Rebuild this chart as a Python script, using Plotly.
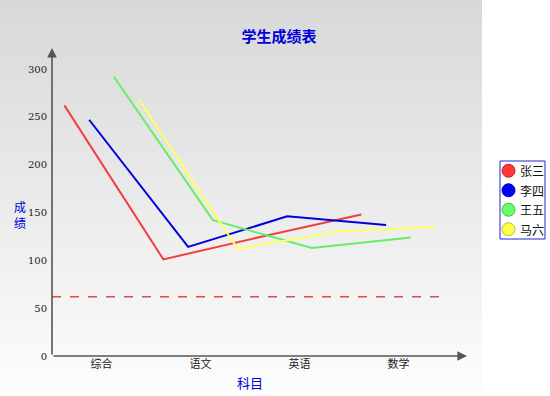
import plotly.graph_objects as go

categories = ["综合", "语文", "英语", "数学"]
series_names = ["张三", "李四", "王五", "马六"]
zhangsan = [262, 101, 125, 148]
lisi = [247, 114, 146, 137]
wangwu = [292, 142, 113, 124]
maliu = [269, 112, 130, 135]
threshold = 62
y_ticks = [0, 50, 100, 150, 200, 250, 300]

series_values = [zhangsan, lisi, wangwu, maliu]
line_colors = ["#f04040", "#0000dd", "#66ee66", "#ffff66"]
marker_colors = ["#ff3838", "#0000ff", "#66ff66", "#ffff44"]
marker_lines = ["#c02020", "#000099", "#44bb44", "#bbbb44"]

W, H = 550, 396
L, R, T, B = 52, 467, 48, 356  # plot area pixels
n = len(series_names)
x_max = 3.5 + (R - 448) / ((448 - L) / 4.0)
y_max = 322

fig = go.Figure()

def px2paper_x(px):
    return (px - L) / (R - L)

def px2paper_y(py):
    return (B - py) / (B - T)

# gradient background (gray panel)
strips = 66
top_c, bot_c = 216, 253
for s in range(strips):
    y0 = H * s / strips
    y1 = H * (s + 1) / strips
    c = int(round(top_c + (bot_c - top_c) * (s + 0.5) / strips))
    fig.add_shape(type="rect", xref="paper", yref="paper",
                  x0=px2paper_x(0), x1=px2paper_x(482),
                  y0=px2paper_y(y1), y1=px2paper_y(y0),
                  fillcolor=f"rgb({c},{c},{c})", line=dict(width=0), layer="below")

for i, (name, vals) in enumerate(zip(series_names, series_values)):
    offs = (i + 0.5) / n - 0.5
    xs = [k + offs for k in range(len(categories))]
    fig.add_trace(go.Scatter(x=xs, y=vals, mode="lines", name=name,
                             line=dict(color=line_colors[i], width=2),
                             showlegend=False, hoverinfo="skip"))

# threshold dashed line
fig.add_shape(type="line", xref="x", yref="y", x0=-0.5, x1=3.5,
              y0=threshold, y1=threshold,
              line=dict(color="#e84848", width=1.5, dash="dash"))

# axes with arrows
fig.add_annotation(x=x_max, y=0, ax=-0.5, ay=0, xref="x", yref="y",
                   axref="x", ayref="y", text="", showarrow=True,
                   arrowhead=2, arrowsize=1.2, arrowwidth=1.6, arrowcolor="#555555")
fig.add_annotation(x=-0.5, y=y_max, ax=-0.5, ay=0, xref="x", yref="y",
                   axref="x", ayref="y", text="", showarrow=True,
                   arrowhead=2, arrowsize=1.2, arrowwidth=1.6, arrowcolor="#555555")

# axis titles
fig.add_annotation(x=px2paper_x(20), y=px2paper_y(214), xref="paper", yref="paper",
                   xanchor="center", yanchor="middle",
                   text="成<br>绩", showarrow=False,
                   font=dict(color="#0000dd", size=12, family="Noto Sans CJK SC"))
fig.add_annotation(x=px2paper_x(250), y=px2paper_y(382), xref="paper", yref="paper",
                   xanchor="center", yanchor="middle",
                   text="科目", showarrow=False,
                   font=dict(color="#0000dd", size=13, family="Noto Sans CJK SC"))

# legend box (drawn to match the compact original legend)
lg_x0, lg_x1, lg_y0, lg_y1 = 500, 545, 161, 239
fig.add_shape(type="rect", xref="paper", yref="paper",
              x0=px2paper_x(lg_x0), x1=px2paper_x(lg_x1),
              y0=px2paper_y(lg_y1), y1=px2paper_y(lg_y0),
              fillcolor="white", line=dict(color="#2222cc", width=1))
row_h = (lg_y1 - lg_y0) / n
rad = 6.5
for i, name in enumerate(series_names):
    cy = lg_y0 + row_h * (i + 0.5)
    cx = lg_x0 + 8.5
    fig.add_shape(type="circle", xref="paper", yref="paper",
                  x0=px2paper_x(cx - rad), x1=px2paper_x(cx + rad),
                  y0=px2paper_y(cy + rad), y1=px2paper_y(cy - rad),
                  fillcolor=marker_colors[i], line=dict(color=marker_lines[i], width=1))
    fig.add_annotation(x=px2paper_x(lg_x0 + 18), y=px2paper_y(cy), xref="paper", yref="paper",
                       xanchor="left", yanchor="middle", text=name, showarrow=False,
                       font=dict(size=12, color="#111", family="Noto Sans CJK SC"))

fig.update_layout(
    width=W, height=H,
    margin=dict(l=L, r=W - R, t=T, b=H - B, autoexpand=False),
    paper_bgcolor="white", plot_bgcolor="rgba(0,0,0,0)",
    title=dict(text="<b>学生成绩表</b>", x=279 / W, xanchor="center",
               y=1 - 37 / H, yanchor="middle",
               font=dict(color="#0000dd", size=15, family="Noto Sans CJK SC")),
    xaxis=dict(range=[-0.5, x_max], tickmode="array",
               tickvals=list(range(len(categories))), ticktext=categories,
               showgrid=False, zeroline=False, showline=False, ticks="",
               tickfont=dict(size=11, color="#222", family="Noto Sans CJK SC"),
               fixedrange=True, automargin=False),
    yaxis=dict(range=[0, y_max], tickmode="array", tickvals=y_ticks,
               showgrid=False, zeroline=False, showline=False, ticks="",
               ticklabelstandoff=4,
               tickfont=dict(size=10, color="#222", family="DejaVu Serif"),
               fixedrange=True, automargin=False),
    showlegend=False,
)

fig.write_html("out.html", config={"displayModeBar": False},
               post_script="document.body.style.margin='0';")
